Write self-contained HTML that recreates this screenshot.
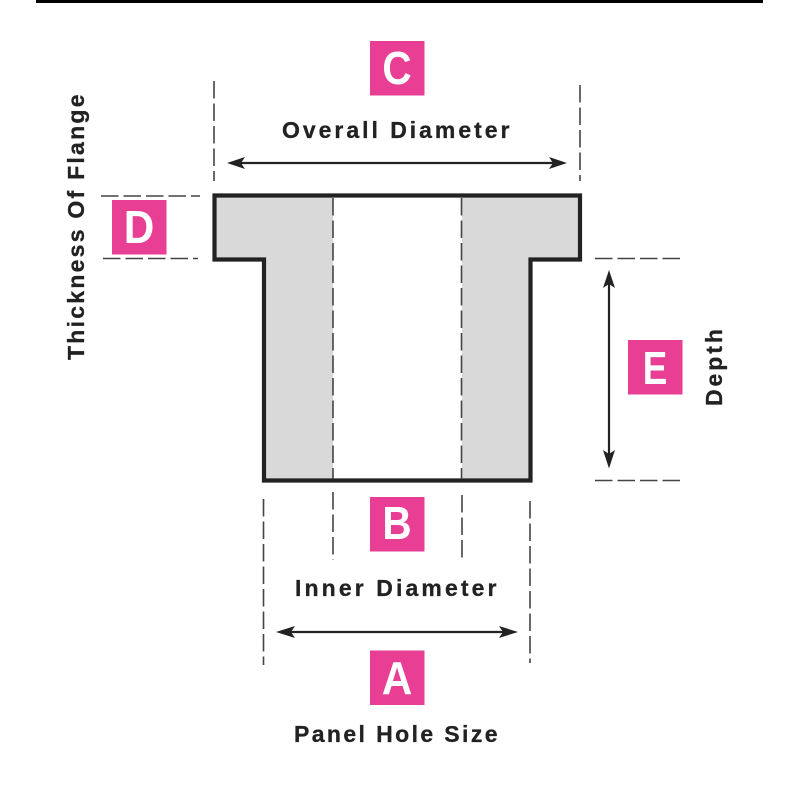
<!DOCTYPE html>
<html>
<head>
<meta charset="utf-8">
<style>
html,body{margin:0;padding:0;background:#fff;width:800px;height:800px;overflow:hidden}
svg{display:block}
.t{font-family:"Liberation Sans",sans-serif;font-weight:700;font-size:23px;fill:#222;stroke:#222;stroke-width:.3}
.b{font-family:"Liberation Sans",sans-serif;font-weight:700;font-size:46px;fill:#fff;text-anchor:middle}
.d{stroke:#444;stroke-width:1.6;fill:none;stroke-dasharray:17.5 5}
.a{stroke:#222;stroke-width:2.2;fill:none}
.h{fill:#222}
</style>
</head>
<body>
<svg width="800" height="800" viewBox="0 0 800 800" xmlns="http://www.w3.org/2000/svg">
<rect x="36" y="0" width="727" height="3" fill="#000"/>

<path d="M214.5 195.5H580V259.5H530.5V480.5H264V259.5H214.5Z" fill="#d9d9d9"/>
<rect x="333" y="197" width="129" height="282" fill="#fff"/>
<path d="M214.500 195.500H580V259.500H530.500V480.500H264V259.500H214.500Z" fill="none" stroke="#222" stroke-width="4.2"/>
<path class="d" d="M333 198V479M461.500 198V479"/>

<path class="d" d="M214 81V181"/>
<path class="d" d="M580 85V181"/>
<path class="d" d="M101 196H200"/>
<path class="d" d="M103 258.500H198"/>
<path class="d" d="M595 258.500H681"/>
<path class="d" d="M595 480.500H681"/>
<path class="d" d="M263.500 499V665"/>
<path class="d" d="M333 492V560"/>
<path class="d" d="M462 495V558"/>
<path class="d" d="M530 501V663"/>

<path class="a" d="M234 163H561"/>
<path class="h" d="M227 163L245 157L241 163L245 169Z"/>
<path class="h" d="M567 163L549 157L553 163L549 169Z"/>

<path class="a" d="M283 632H511" stroke-width="2.6"/>
<path class="h" d="M276 632L295 626L291 632L295 638Z"/>
<path class="h" d="M518 632L499 626L503 632L499 638Z"/>

<path class="a" d="M609 277V462"/>
<path class="h" d="M609 270L603 288L609 284L615 288Z"/>
<path class="h" d="M609 468.500L603 450L609 454L615 450Z"/>

<rect x="370" y="41" width="54.500" height="54.500" fill="#e83e94"/>
<rect x="112" y="200" width="54.500" height="54.500" fill="#e83e94"/>
<rect x="628" y="340" width="54.500" height="54.500" fill="#e83e94"/>
<rect x="370" y="497" width="54.500" height="54.500" fill="#e83e94"/>
<rect x="370" y="650.500" width="54.500" height="54.500" fill="#e83e94"/>

<text class="b" transform="translate(397 84) scale(.88 1)">C</text>
<text class="b" transform="translate(139 243) scale(.92 1)">D</text>
<text class="b" transform="translate(655 384) scale(.8 1)">E</text>
<text class="b" transform="translate(397 539) scale(.88 1)">B</text>
<text class="b" transform="translate(397 694) scale(.92 1)">A</text>

<text class="t" x="282" y="138" textLength="227.500" lengthAdjust="spacing">Overall Diameter</text>
<text class="t" x="295" y="596" textLength="201.500" lengthAdjust="spacing">Inner Diameter</text>
<text class="t" x="294" y="742" textLength="203.500" lengthAdjust="spacing">Panel Hole Size</text>
<text class="t" transform="translate(84 360) rotate(-90)" textLength="265.500" lengthAdjust="spacing">Thickness Of Flange</text>
<text class="t" transform="translate(722 406) rotate(-90)" textLength="77" lengthAdjust="spacing">Depth</text>
</svg>
</body>
</html>
